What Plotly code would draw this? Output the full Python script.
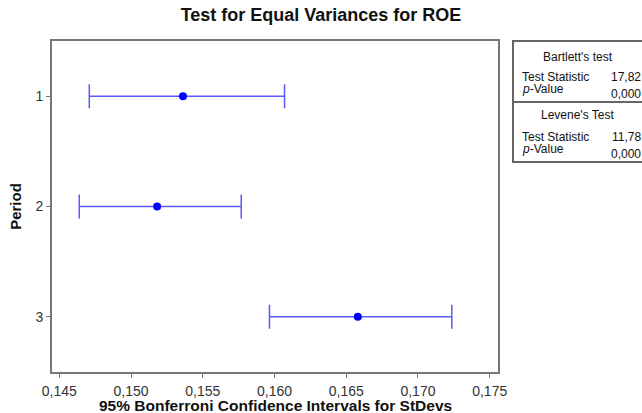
import plotly.graph_objects as go

periods = [1, 2, 3]
period_labels = ["1", "2", "3"]
stdev_est = [0.15362, 0.15182, 0.16581]
ci_lower = [0.14709, 0.14639, 0.15965]
ci_upper = [0.16070, 0.15768, 0.17236]
x_ticks = [0.145, 0.150, 0.155, 0.160, 0.165, 0.170, 0.175]
x_tick_labels = ["0,145", "0,150", "0,155", "0,160", "0,165", "0,170", "0,175"]

bartlett_stat = "17,82"
bartlett_p = "0,000"
levene_stat = "11,78"
levene_p = "0,000"

err_plus = [u - c for u, c in zip(ci_upper, stdev_est)]
err_minus = [c - l for c, l in zip(stdev_est, ci_lower)]

FONT = "Liberation Sans, Arial, sans-serif"

fig = go.Figure()
fig.add_trace(go.Scatter(
    x=stdev_est, y=periods, mode="markers",
    marker=dict(color="#0000ff", size=8),
    error_x=dict(type="data", symmetric=False, array=err_plus, arrayminus=err_minus,
                 color="#5a5aff", thickness=1.5, width=12),
    showlegend=False,
))

fig.update_layout(
    width=642, height=413,
    margin=dict(l=52, r=144, t=41, b=41, autoexpand=False),
    paper_bgcolor="white", plot_bgcolor="white",
    font=dict(family=FONT, color="#222"),
    title=dict(text="<b>Test for Equal Variances for ROE</b>", x=0.5, xanchor="center",
               xref="container", y=1 - 15 / 413, yanchor="middle", yref="container",
               font=dict(size=18, color="#111")),
    xaxis=dict(range=[0.14449, 0.17558], tickvals=x_ticks, ticktext=x_tick_labels,
               automargin=False,
               showgrid=False, zeroline=False, showline=True, mirror=True,
               linecolor="#777", linewidth=2, ticks="outside", ticklen=4, tickcolor="#777",
               ticklabelstandoff=1,
               tickfont=dict(size=14, color="#333")),
    yaxis=dict(range=[3.5, 0.5], tickvals=periods, ticktext=period_labels,
               automargin=False,
               showgrid=False, zeroline=False, showline=True, mirror=True,
               linecolor="#777", linewidth=2, ticks="outside", ticklen=4, tickcolor="#777",
               tickfont=dict(size=14, color="#333"),
               title=dict(text="<b>Period</b>", font=dict(size=15, color="#111"), standoff=10)),
)

def px_x(px):
    return (px - 52) / 446

def px_y(py):
    return (372 - py) / 331

# x axis title
fig.add_annotation(text="<b>95% Bonferroni Confidence Intervals for StDevs</b>",
                   xref="paper", yref="paper", x=0.5, y=px_y(405), xanchor="center",
                   yanchor="middle", showarrow=False,
                   font=dict(size=15.5, color="#111", family=FONT))

# statistics box
box_l, box_r, box_t, box_mid, box_b = px_x(513), px_x(660), px_y(41), px_y(102), px_y(162)
fig.add_shape(type="rect", xref="paper", yref="paper", x0=box_l, x1=box_r, y0=box_b, y1=box_t,
              line=dict(color="#666", width=2), fillcolor="white", layer="below")
fig.add_shape(type="line", xref="paper", yref="paper", x0=box_l, x1=box_r, y0=box_mid, y1=box_mid,
              line=dict(color="#666", width=2))

def txt(text, x, y, anchor):
    fig.add_annotation(text=text, xref="paper", yref="paper", x=px_x(x), y=px_y(y),
                       xanchor=anchor, yanchor="middle", showarrow=False,
                       font=dict(size=12, color="#111", family=FONT))

txt("Bartlett's test", 578, 57, "center")
txt("Test Statistic", 520, 77, "left")
txt(bartlett_stat, 643, 77, "right")
txt("<i>p</i>-Value", 520, 89, "left")
txt(bartlett_p, 643, 94, "right")
txt("Levene's Test", 577, 115, "center")
txt("Test Statistic", 520, 137, "left")
txt(levene_stat, 643, 137, "right")
txt("<i>p</i>-Value", 520, 149, "left")
txt(levene_p, 643, 154, "right")

fig.write_html("out.html", config={"displayModeBar": False},
               post_script="document.body.style.margin='0';")
